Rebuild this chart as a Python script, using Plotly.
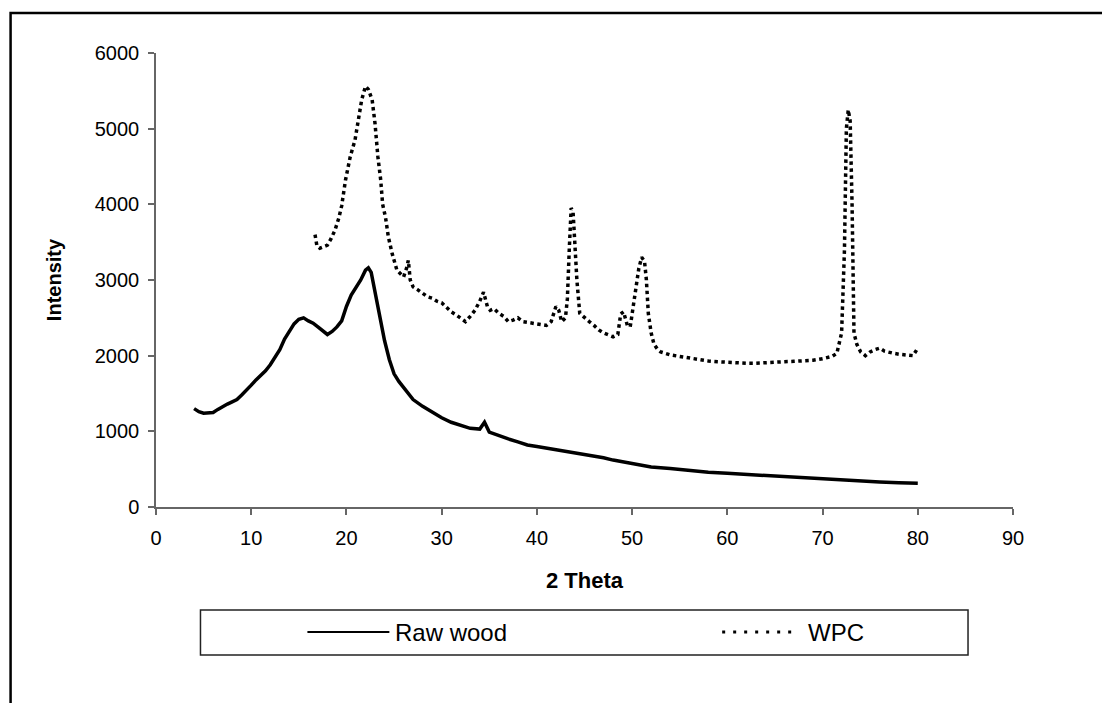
import plotly.graph_objects as go

# ---- data ----
raw_x = [4.0, 4.5, 5.0, 5.5, 6.0, 6.5, 7.0, 7.5, 8.0, 8.5, 9.0, 9.5, 10.0, 10.5, 11.0, 11.5,
         12.0, 12.5, 13.0, 13.5, 14.0, 14.5, 15.0, 15.5, 16.0, 16.5, 17.0, 17.5, 18.0, 18.5,
         19.0, 19.5, 20.0, 20.5, 21.0, 21.5, 22.0, 22.3, 22.6, 23.0, 23.5, 24.0, 24.5, 25.0,
         25.5, 26.0, 26.5, 27.0, 28.0, 29.0, 30.0, 31.0, 32.0, 33.0, 34.0, 34.5, 35.0, 36.0,
         37.0, 38.0, 39.0, 40.0, 41.0, 42.0, 43.0, 44.0, 45.0, 46.0, 47.0, 48.0, 49.0, 50.0,
         52.0, 54.0, 56.0, 58.0, 60.0, 62.0, 64.0, 66.0, 68.0, 70.0, 72.0, 74.0, 76.0, 78.0, 80.0]
raw_y = [1300, 1260, 1240, 1250, 1250, 1290, 1330, 1360, 1390, 1420, 1480, 1540, 1610, 1680, 1740, 1800,
         1880, 1970, 2080, 2220, 2330, 2420, 2480, 2500, 2460, 2430, 2380, 2330, 2280, 2320,
         2380, 2460, 2650, 2800, 2900, 3000, 3130, 3160, 3100, 2850, 2480, 2200, 1950, 1760,
         1660, 1580, 1500, 1420, 1330, 1250, 1180, 1120, 1080, 1040, 1030, 1120, 990, 940,
         900, 860, 820, 800, 780, 760, 730, 710, 700, 680, 650, 620, 600, 570,
         530, 510, 480, 460, 445, 430, 410, 395, 380, 365, 355, 340, 330, 320, 315]

wpc_x = [16.7, 16.9, 17.2, 17.6, 18.0, 18.4, 18.8, 19.2, 19.5, 19.9, 20.4, 20.9, 21.3, 21.6, 22.0,
         22.3, 22.7, 23.0, 23.3, 23.6, 23.8, 24.1, 24.4, 24.8, 25.3, 25.7, 26.0, 26.3, 26.5, 26.7,
         27.0, 27.5, 28.0, 28.5, 29.0, 29.5, 30.0, 30.5, 31.0, 31.5, 32.0, 32.5, 33.0, 33.5, 34.0,
         34.4, 34.8, 35.1, 35.5, 36.0, 36.5, 37.0, 37.5, 38.0, 38.5, 39.0, 39.5, 40.0, 40.5, 41.0,
         41.5, 42.0, 42.3, 42.6, 43.0, 43.2, 43.4, 43.6, 43.8, 44.0, 44.2, 44.5, 45.0, 45.5, 46.0,
         46.5, 47.0, 47.5, 48.0, 48.5, 48.8, 49.1, 49.5, 49.8, 50.1, 50.4, 50.7, 51.0, 51.3, 51.5,
         51.7, 52.0, 52.3, 52.7, 53.0, 54.0, 55.0, 56.0, 57.0, 58.0, 59.0, 60.0, 61.0, 62.0, 63.0,
         64.0, 65.0, 66.0, 67.0, 68.0, 69.0, 70.0, 71.0, 71.5, 72.0, 72.3, 72.5, 72.7, 72.9, 73.1,
         73.2, 73.3, 73.6, 74.0, 74.5, 75.0, 75.5, 76.0, 76.5, 77.0, 77.5, 78.0, 78.5, 79.0, 79.5, 80.0]
wpc_y = [3600, 3450, 3420, 3440, 3460, 3550, 3660, 3820, 3980, 4320, 4630, 4850, 5150, 5380, 5560,
         5520, 5380, 5070, 4630, 4320, 4000, 3830, 3570, 3350, 3130, 3080, 3040, 3150, 3260, 3000,
         2910, 2870, 2820, 2780, 2760, 2720, 2700, 2640, 2580, 2540, 2500, 2450, 2520, 2600, 2720,
         2840, 2650, 2600, 2620, 2560, 2520, 2450, 2470, 2500, 2450, 2440, 2430, 2420, 2400, 2400,
         2450, 2650, 2600, 2450, 2500, 2750, 3400, 3950, 3900, 3350, 3000, 2560, 2500, 2450, 2400,
         2340, 2300, 2270, 2250, 2280, 2550, 2580, 2400, 2380, 2650, 2850, 3150, 3300, 3250, 3000,
         2560, 2300, 2150, 2080, 2050, 2010, 1990, 1960, 1940, 1930, 1920, 1910, 1910, 1900, 1900,
         1910, 1910, 1920, 1925, 1930, 1940, 1960, 1990, 2030, 2300, 3400, 5000, 5250, 5100, 4000,
         3300, 2300, 2150, 2050, 2000, 2050, 2080, 2100, 2060, 2040, 2030, 2020, 2010, 2000, 2000, 2100]

series_names = ["Raw wood", "WPC"]
x_ticks = [0, 10, 20, 30, 40, 50, 60, 70, 80, 90]
y_ticks = [0, 1000, 2000, 3000, 4000, 5000, 6000]

FONT = "Arial, Liberation Sans, sans-serif"

fig = go.Figure()
fig.add_trace(go.Scatter(x=raw_x, y=raw_y, mode="lines", name=series_names[0],
                         line=dict(color="black", width=3.5), showlegend=False))
fig.add_trace(go.Scatter(x=wpc_x, y=wpc_y, mode="lines", name=series_names[1],
                         line=dict(color="black", width=3.5, dash="dot"), showlegend=False))

axis_common = dict(showline=True, linecolor="#666666", linewidth=1.5, ticks="outside",
                   ticklen=6, tickcolor="#666666", tickwidth=1.5, showgrid=False, zeroline=False,
                   tickfont=dict(family=FONT, size=20, color="black"))

fig.update_xaxes(range=[0, 90], tickvals=x_ticks, ticklabelstandoff=6,
                 title=dict(text="<b>2 Theta</b>", font=dict(family=FONT, size=22, color="black"), standoff=25),
                 **axis_common)
fig.update_yaxes(range=[0, 6000], tickvals=y_ticks, ticklabelstandoff=5,
                 title=dict(text="<b>Intensity</b>", font=dict(family=FONT, size=20, color="black"), standoff=28),
                 **axis_common)

# paper coordinate helpers (plot area: x 155.5..1013 px, y 53..507 px)
def px(xp):
    return (xp - 155.5) / 857.5

def py(yp):
    return (507 - yp) / 454.0

shapes = [
    # outer chart border (extends past the canvas on right and bottom)
    dict(type="rect", xref="paper", yref="paper", x0=px(10), x1=px(1115), y0=py(13), y1=py(715),
         line=dict(color="black", width=2.5)),
    # legend box
    dict(type="rect", xref="paper", yref="paper", x0=px(200), x1=px(968), y0=py(610), y1=py(655),
         line=dict(color="#222222", width=1.5), fillcolor="white"),
    # legend samples
    dict(type="line", xref="paper", yref="paper", x0=px(307), x1=px(389), y0=py(632), y1=py(632),
         line=dict(color="black", width=2)),
    dict(type="line", xref="paper", yref="paper", x0=px(722), x1=px(798), y0=py(632), y1=py(632),
         line=dict(color="black", width=3, dash="3px,8px")),
]
annotations = [
    dict(text=series_names[0], xref="paper", yref="paper", x=px(393), y=py(632), xanchor="left",
         yanchor="middle", showarrow=False, font=dict(family=FONT, size=24, color="black")),
    dict(text=series_names[1], xref="paper", yref="paper", x=px(806), y=py(632), xanchor="left",
         yanchor="middle", showarrow=False, font=dict(family=FONT, size=24, color="black")),
]

fig.update_layout(width=1102, height=703, margin=dict(l=155.5, r=89, t=53, b=196),
                  plot_bgcolor="white", paper_bgcolor="white", shapes=shapes,
                  annotations=annotations, showlegend=False)

fig.write_html("out.html")
